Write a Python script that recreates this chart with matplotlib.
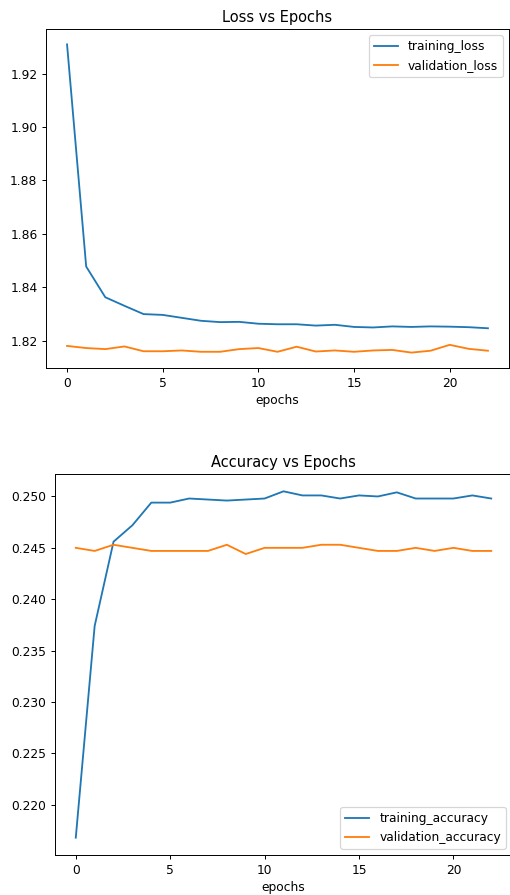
import numpy as np
import matplotlib
matplotlib.use("Agg")
import matplotlib.pyplot as plt

# values
epochs = list(range(23))

training_loss = [1.9309, 1.8478, 1.8363, 1.8331, 1.8300, 1.8297, 1.8286, 1.8275,
                 1.8270, 1.8271, 1.8264, 1.8262, 1.8262, 1.8257, 1.8260, 1.8252,
                 1.8250, 1.8254, 1.8252, 1.8254, 1.8253, 1.8251, 1.8247]
validation_loss = [1.8181, 1.8173, 1.8169, 1.8179, 1.8161, 1.8161, 1.8164, 1.8159,
                   1.8159, 1.8169, 1.8173, 1.8159, 1.8178, 1.8160, 1.8164, 1.8159,
                   1.8164, 1.8166, 1.8156, 1.8163, 1.8185, 1.8170, 1.8163]

training_accuracy = [0.2168, 0.2374, 0.2456, 0.2472, 0.2494, 0.2494, 0.2498, 0.2497,
                     0.2496, 0.2497, 0.2498, 0.2505, 0.2501, 0.2501, 0.2498, 0.2501,
                     0.2500, 0.2504, 0.2498, 0.2498, 0.2498, 0.2501, 0.2498]
validation_accuracy = [0.2450, 0.2447, 0.2453, 0.2450, 0.2447, 0.2447, 0.2447, 0.2447,
                       0.2453, 0.2444, 0.2450, 0.2450, 0.2450, 0.2453, 0.2453, 0.2450,
                       0.2447, 0.2447, 0.2450, 0.2447, 0.2450, 0.2447, 0.2447]

W, H, DPI = 510, 895, 88
fig = plt.figure(figsize=(W / DPI, H / DPI), dpi=DPI)


def px_axes(left, top, right, bottom):
    '''axes rectangle given in pixel coordinates of the picture'''
    return fig.add_axes([left / W, 1 - bottom / H, (right - left) / W, (bottom - top) / H])


## Loss
ax1 = px_axes(46, 29, 509, 368)
ax1.plot(epochs, training_loss, label='training_loss')
ax1.plot(epochs, validation_loss, label='validation_loss')
ax1.set_title('Loss vs Epochs')
ax1.set_xlabel('epochs')
ax1.legend(loc='upper right')

## Accuracy
ax2 = px_axes(55, 474, 512, 855)
ax2.plot(epochs, training_accuracy, label='training_accuracy')
ax2.plot(epochs, validation_accuracy, label='validation_accuracy')
ax2.set_title('Accuracy vs Epochs')
ax2.set_xlabel('epochs')
ax2.legend(loc='lower right')

fig.savefig('out.png', dpi=DPI)
